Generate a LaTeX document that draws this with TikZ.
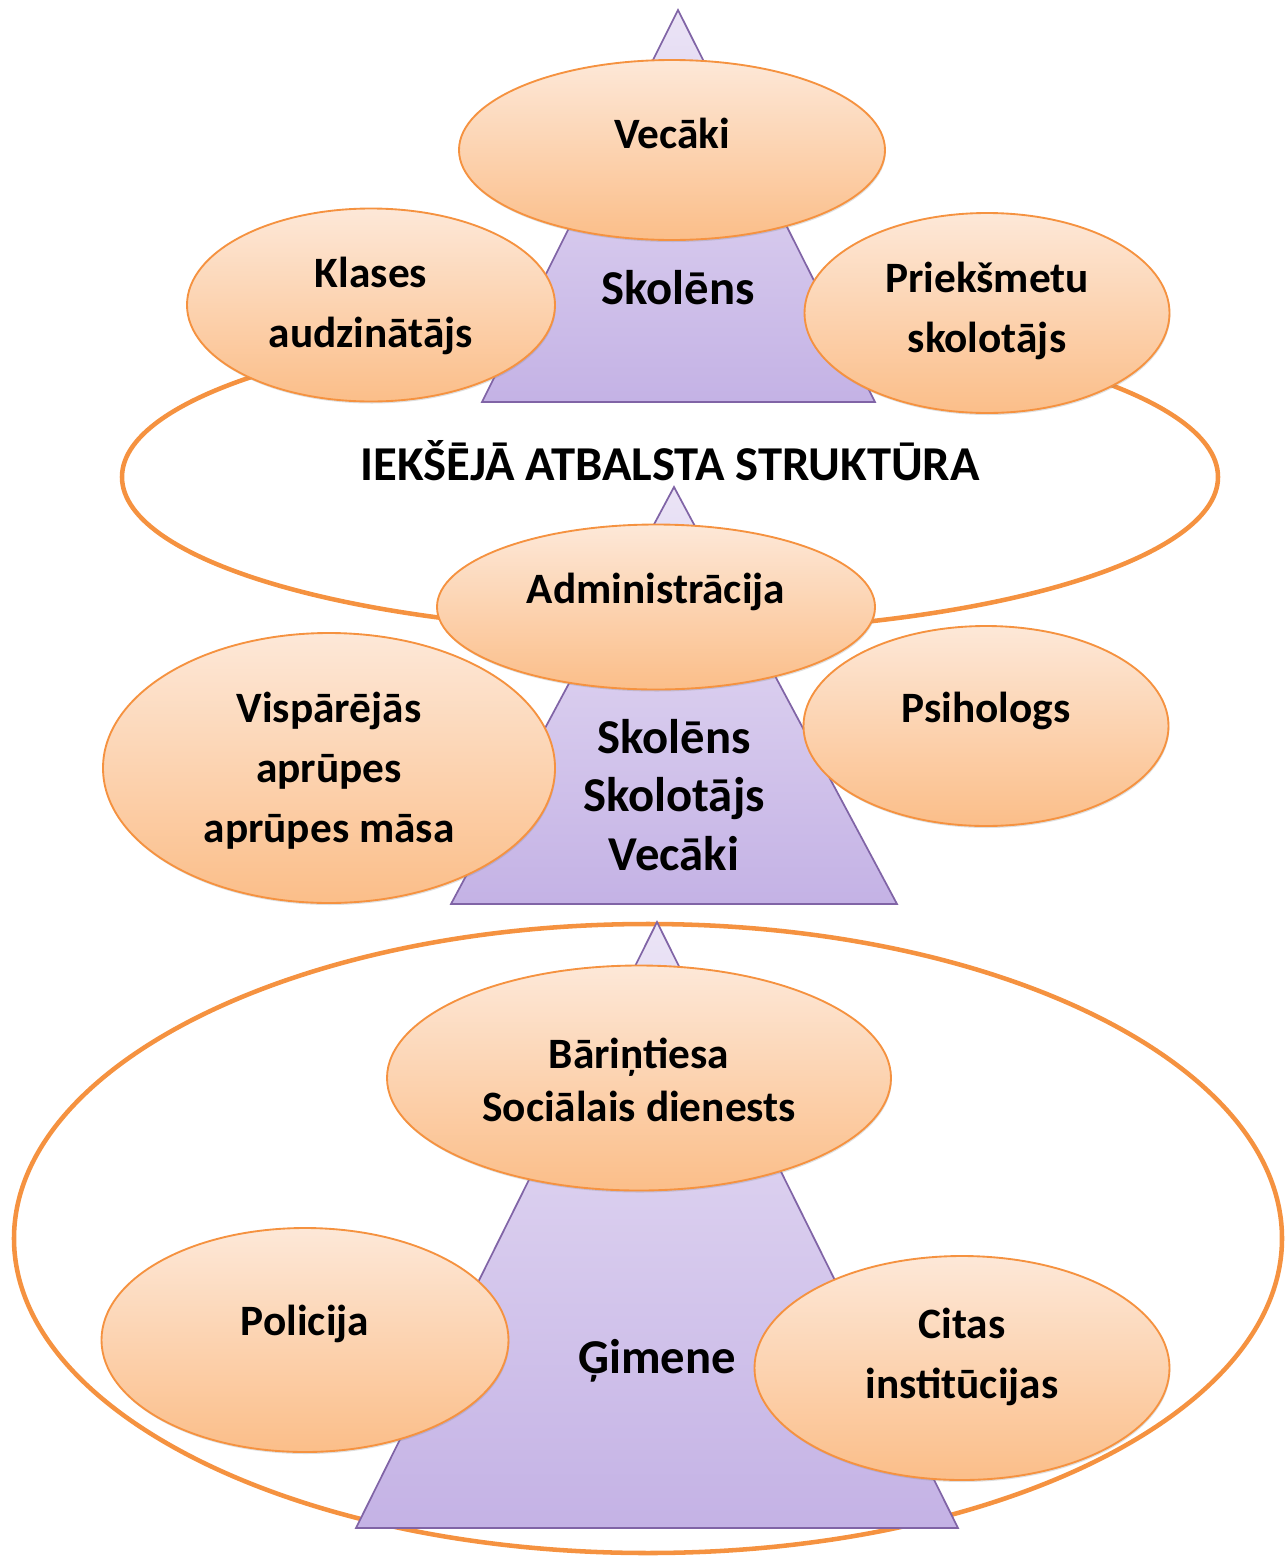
\documentclass[tikz,border=0pt]{standalone}
\usepackage{fontspec}
\setmainfont{Carlito}
\usetikzlibrary{shapes.geometric,shadows}

\definecolor{orangeline}{RGB}{245,146,64}
\definecolor{orangetop}{RGB}{253,232,216}
\definecolor{orangebot}{RGB}{251,190,137}
\definecolor{lilacline}{RGB}{128,100,166}
\definecolor{lilactop}{RGB}{235,228,246}
\definecolor{lilacbot}{RGB}{196,178,229}

\tikzset{
    ring/.style={ellipse, draw=orangeline, line width=3.4pt, inner sep=0pt},
    bubble/.style={ellipse, draw=orangeline, line width=1.4pt, inner sep=0pt,
        top color=orangetop, bottom color=orangebot,
        drop shadow={shadow xshift=0.6pt, shadow yshift=-1.5pt, opacity=0.25}},
    tri/.style={draw=lilacline, line width=1.3pt, top color=lilactop, bottom color=lilacbot},
    bubtext/.style={font=\bfseries\fontsize{32.5}{45}\selectfont, align=center},
    tritext/.style={font=\bfseries\fontsize{36.5}{44}\selectfont, align=center}
}

\begin{document}
\begin{tikzpicture}[x=0.75pt,y=0.75pt,yscale=-1,xscale=1]
        \useasboundingbox (0,0) rectangle (1287,1557);

        %Shape: Ellipse [inner ring]
        \node[ring, minimum width=822pt, minimum height=232.5pt] (inner) at (670,477) {};
        %Shape: Ellipse [outer ring]
        \node[ring, minimum width=951pt, minimum height=471.75pt] (outer) at (648,1238.5) {};

        %Shape: Triangle [top]
        \draw[tri] (678,10) -- (875,402) -- (482,402) -- cycle;
        %Shape: Triangle [middle]
        \draw[tri] (674,487) -- (897,904) -- (451,904) -- cycle;
        %Shape: Triangle [bottom]
        \draw[tri] (657,922) -- (958,1528) -- (356,1528) -- cycle;

        %Text: triangles
        \node[tritext] (skolens) at (678,288) {Skolēns};
        \node[tritext] (trio) at (674,795) {Skolēns\\Skolotājs\\Vecāki};
        \node[tritext] (gimene) at (657,1361) {Ģimene};
        \node[tritext] (iekseja) at (670,461) {IEKŠĒJĀ ATBALSTA STRUKTŪRA};

        %Shape: Ellipse [top group]
        \node[bubble, minimum width=319.5pt, minimum height=135pt] (vecaki) at (672,150) {};
        \node[bubble, minimum width=276pt, minimum height=144.75pt] (klases) at (371,305) {};
        \node[bubble, minimum width=273.75pt, minimum height=150pt] (prieksmetu) at (987,313) {};
        %Shape: Ellipse [middle group]
        \node[bubble, minimum width=328.5pt, minimum height=123.75pt] (admin) at (656,607) {};
        \node[bubble, minimum width=339pt, minimum height=202.5pt] (visparejas) at (329,768) {};
        \node[bubble, minimum width=273.75pt, minimum height=150pt] (psihologs) at (986,726) {};
        %Shape: Ellipse [bottom group]
        \node[bubble, minimum width=378pt, minimum height=168.75pt] (barintiesa) at (639,1078) {};
        \node[bubble, minimum width=305.25pt, minimum height=168pt] (policija) at (305,1340) {};
        \node[bubble, minimum width=311.25pt, minimum height=168pt] (citas) at (962,1368) {};

        %Text: ellipses
        \node[bubtext] (vecaki-t) at (672,133) {Vecāki};
        \node[bubtext] (klases-t) at (371,306) {Klases\\audzinātājs};
        \node[bubtext] (prieksmetu-t) at (987,311) {Priekšmetu\\skolotājs};
        \node[bubtext] (admin-t) at (656,592) {Administrācija};
        \node[bubtext] (visparejas-t) at (329,771) {Vispārējās\\aprūpes\\aprūpes māsa};
        \node[bubtext] (psihologs-t) at (986,711) {Psihologs};
        \node[bubtext, font=\bfseries\fontsize{32.5}{40}\selectfont] (barintiesa-t) at (639,1080) {Bāriņtiesa\\Sociālais dienests};
        \node[bubtext] (policija-t) at (305,1324) {Policija};
        \node[bubtext] (citas-t) at (962,1357) {Citas\\institūcijas};

\end{tikzpicture}
\end{document}
